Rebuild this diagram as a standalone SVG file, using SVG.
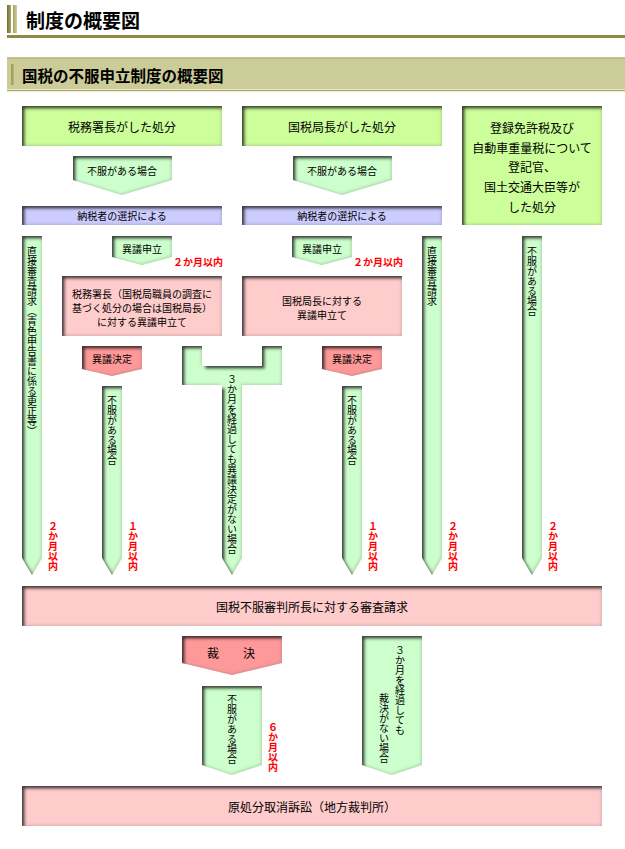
<svg xmlns="http://www.w3.org/2000/svg" width="625" height="849" viewBox="0 0 625 849">
<defs>
<filter id="bv" filterUnits="userSpaceOnUse" x="0" y="0" width="625" height="849">
<feComponentTransfer in="SourceAlpha" result="inv"><feFuncA type="table" tableValues="1 0"/></feComponentTransfer>
<feGaussianBlur in="inv" stdDeviation="1.4" result="ib"/>
<feOffset in="ib" dx="2.5" dy="2.5" result="o1"/>
<feFlood flood-color="#141414" flood-opacity="0.95"/>
<feComposite in2="o1" operator="in" result="c1"/>
<feComposite in="c1" in2="SourceAlpha" operator="in" result="s1"/>
<feOffset in="ib" dx="-1.2" dy="-1.2" result="o2"/>
<feFlood flood-color="#777777" flood-opacity="0.45"/>
<feComposite in2="o2" operator="in" result="c2"/>
<feComposite in="c2" in2="SourceAlpha" operator="in" result="s2"/>
<feMerge><feMergeNode in="SourceGraphic"/><feMergeNode in="s1"/><feMergeNode in="s2"/></feMerge>
</filter>
<linearGradient id="hb1" x1="0" y1="0" x2="1" y2="0"><stop offset="0" stop-color="#6e6d2e"/><stop offset="1" stop-color="#a9a866"/></linearGradient>
<linearGradient id="hb2" x1="0" y1="0" x2="1" y2="0"><stop offset="0" stop-color="#a3a25e"/><stop offset="1" stop-color="#d2d19c"/></linearGradient>
</defs>
<style>
text{font-family:"Noto Sans CJK JP","Noto Sans CJK SC",sans-serif;fill:#000}
.sh{filter:url(#bv)}
.g1{fill:#ccff99}.g2{fill:#ccffcc}.pu{fill:#ccccff}.pk{fill:#ffcccc}.rd{fill:#ff9999}
.t12{font-size:12px}.t10{font-size:10px}
.c{text-anchor:middle;dominant-baseline:central}
.v{writing-mode:vertical-rl;text-orientation:upright;font-size:10px}
.red{fill:#ff0000;font-weight:bold;font-size:10px}
</style>
<rect width="625" height="849" fill="#ffffff"/>
<g id="header">
<rect x="7" y="5" width="4" height="28" fill="url(#hb1)"/>
<rect x="13" y="5" width="4" height="28" fill="url(#hb2)"/>
<text x="26" y="28" style="font-size:19px;font-weight:bold">制度の概要図</text>
<rect x="7" y="35" width="618" height="3" fill="#8c8a45"/>
<rect x="7" y="57.5" width="618" height="33" fill="#cccc99"/>
<rect x="7" y="57.5" width="618" height="1" fill="#a9a85c"/>
<rect x="7" y="89" width="618" height="1" fill="#ecebd0"/>
<rect x="7" y="90" width="618" height="1.2" fill="#a9a85c"/>
<rect x="11" y="64" width="2.5" height="21" fill="#a3a257"/>
<text x="22" y="82" style="font-size:15.5px;font-weight:bold">国税の不服申立制度の概要図</text>
</g>
<g id="node-zeimusho">
<rect class="g1 sh" x="22" y="106" width="200" height="40"/>
<text class="t12 c" x="122" y="126">税務署長がした処分</text>
</g>
<g id="node-kokuzeikyoku">
<rect class="g1 sh" x="242" y="106" width="200" height="40"/>
<text class="t12 c" x="342" y="126">国税局長がした処分</text>
</g>
<g id="node-tokikan">
<rect class="g1 sh" x="462" y="106" width="140" height="119"/>
<text class="t12 c" x="532" y="127">登録免許税及び</text>
<text class="t12 c" x="532" y="147">自動車重量税について</text>
<text class="t12 c" x="532" y="166">登記官、</text>
<text class="t12 c" x="532" y="186">国土交通大臣等が</text>
<text class="t12 c" x="532" y="206">した処分</text>
</g>
<g id="node-sentaku1">
<rect class="pu sh" x="22" y="206" width="200" height="19"/>
<text class="t10 c" x="122" y="215.5">納税者の選択による</text>
</g>
<g id="node-sentaku2">
<rect class="pu sh" x="242" y="206" width="200" height="19"/>
<text class="t10 c" x="342" y="215.5">納税者の選択による</text>
</g>
<g id="node-igi1">
<rect class="pk sh" x="62" y="276" width="160" height="60"/>
<text class="t10 c" x="142" y="293">税務署長（国税局職員の調査に</text>
<text class="t10 c" x="142" y="307">基づく処分の場合は国税局長）</text>
<text class="t10 c" x="142" y="321">に対する異議申立て</text>
</g>
<g id="node-igi2">
<rect class="pk sh" x="242" y="276" width="160" height="60"/>
<text class="t10 c" x="322" y="300">国税局長に対する</text>
<text class="t10 c" x="322" y="314">異議申立て</text>
</g>
<g id="node-shinsa">
<rect class="pk sh" x="22" y="586" width="580" height="40"/>
<text class="t12 c" x="312" y="606">国税不服審判所長に対する審査請求</text>
</g>
<g id="node-sosho">
<rect class="pk sh" x="22" y="786" width="580" height="40"/>
<text class="t12 c" x="312" y="806">原処分取消訴訟（地方裁判所）</text>
</g>
<g id="connectors">
<g id="c-fufuku1">
<polygon class="g2 sh" points="73,156 172,156 172,180 122,195 73,180"/>
<text class="t10 c" x="122" y="170">不服がある場合</text>
</g>
<g id="c-fufuku2">
<polygon class="g2 sh" points="293,156 392,156 392,180 342,195 293,180"/>
<text class="t10 c" x="342" y="170">不服がある場合</text>
</g>
<g id="c-igimoushitate1">
<polygon class="g2 sh" points="112,236 172,236 172,257 142,265 112,257"/>
<text class="t10 c" x="142" y="248">異議申立</text>
<text class="red" x="173" y="266">２か月以内</text>
</g>
<g id="c-igimoushitate2">
<polygon class="g2 sh" points="292,236 352,236 352,257 322,265 292,257"/>
<text class="t10 c" x="322" y="248">異議申立</text>
<text class="red" x="353" y="266">２か月以内</text>
</g>
<g id="c-chokusetsu1">
<polygon class="g2 sh" points="22,236 42,236 42,558 32,575 22,558"/>
<text class="v" x="32" y="246">直接審査請求（青色申告書に係る更正等）</text>
<text class="red v" x="53" y="521">２か月以内</text>
</g>
<g id="c-igikettei1">
<polygon class="rd sh" points="82,346 142,346 142,369 112,376 82,369"/>
<text class="t10 c" x="112" y="358">異議決定</text>
</g>
<g id="c-igikettei2">
<polygon class="rd sh" points="322,346 382,346 382,369 352,376 322,369"/>
<text class="t10 c" x="352" y="358">異議決定</text>
</g>
<g id="c-fufuku3">
<polygon class="g2 sh" points="102,386 122,386 122,558 112,575 102,558"/>
<text class="v" x="112" y="395">不服がある場合</text>
<text class="red v" x="133" y="521">１か月以内</text>
</g>
<g id="c-3kagetsu1">
<polygon class="g2 sh" points="182,346 202,346 202,366 262,366 262,346 282,346 282,385 242,385 242,558 232,575 222,558 222,385 182,385"/>
<text class="v" x="232" y="374">３か月を経過しても異議決定がない場合</text>
</g>
<g id="c-fufuku4">
<polygon class="g2 sh" points="342,386 362,386 362,558 352,575 342,558"/>
<text class="v" x="352" y="395">不服がある場合</text>
<text class="red v" x="373" y="521">１か月以内</text>
</g>
<g id="c-chokusetsu2">
<polygon class="g2 sh" points="422,236 442,236 442,558 432,575 422,558"/>
<text class="v" x="432" y="246">直接審査請求</text>
<text class="red v" x="453" y="521">２か月以内</text>
</g>
<g id="c-fufuku5">
<polygon class="g2 sh" points="522,236 542,236 542,558 532,575 522,558"/>
<text class="v" x="532" y="246">不服がある場合</text>
<text class="red v" x="553" y="521">２か月以内</text>
</g>
<g id="c-saiketsu">
<polygon class="rd sh" points="182,636 282,636 282,663 232,675 182,663"/>
<text class="t12 c" x="231" y="652">裁　　決</text>
</g>
<g id="c-fufuku6">
<polygon class="g2 sh" points="202,686 262,686 262,765 232,775 202,765"/>
<text class="v" x="232" y="694">不服がある場合</text>
<text class="red v" x="273" y="722">６か月以内</text>
</g>
<g id="c-3kagetsu2">
<polygon class="g2 sh" points="362,636 422,636 422,765 392,775 362,765"/>
<text class="v" x="400" y="645">３か月を経過しても</text>
<text class="v" x="384" y="693">裁決がない場合</text>
</g>
</g>
</svg>
